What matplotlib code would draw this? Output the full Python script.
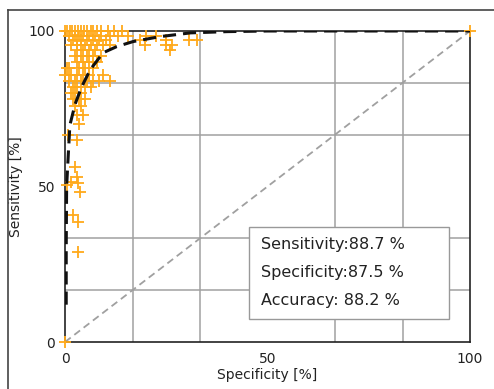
import matplotlib
matplotlib.use('Agg')
import matplotlib.pyplot as plt
from matplotlib.lines import Line2D

# ROC curve (specificity-side x, sensitivity y)
roc_x = [0.3, 0.3, 0.4, 0.8, 1.2, 2.5, 4.1, 6.2, 9.4, 12.8, 16.8, 23.5, 31, 40, 50, 100]
roc_y = [12, 30, 50, 60, 69.7, 76.5, 82, 87.5, 93, 95, 96.6, 98.2, 99.4, 99.8, 100, 100]

# individual cases (+ markers), grouped by row
rows = {
    100: [0, 0.5, 1.2, 1.8, 2.5, 3.2, 4, 4.8, 5.5, 6.3, 7, 8, 9, 10.5, 12, 14],
    98.5: [1, 2.5, 3.5, 4.5, 6, 7.5, 9, 11, 13, 15.5, 20, 22.5],
    97: [2, 3, 4, 5.5, 7, 8.5, 10, 18.5, 25, 30.5, 32.5],
    95.5: [1.5, 3, 4, 5, 6.5, 8, 9.5, 11, 19.8, 25, 26.5],
    94: [3, 4.5, 6, 7.5, 26],
    92: [2.5, 4, 5.5, 7, 9],
    90: [3, 4.5, 6, 8],
    88: [0.5, 1, 3.5, 5, 7],
    86: [0, 1.5, 3, 4.5, 6, 9.5],
    84: [1, 2.5, 4, 5.5, 7, 8.5, 11],
    82: [2, 3, 5, 6.5],
    80: [1.5, 2.5, 4],
    78: [2, 3.5, 5],
    76: [2.5, 4],
    73: [3, 4.5],
    70: [3.5],
}
low_x = [0.8, 2.9, 2.5, 2.9, 3.2, 0.5, 3.7, 1.6, 2.0, 3.3, 3.3, 0, 100]
low_y = [66.5, 65, 56.4, 53, 51, 50.5, 48.3, 51.5, 40.8, 38.7, 29, 0, 100]

pts_x, pts_y = [], []
for yv, xs in rows.items():
    pts_x += xs
    pts_y += [yv] * len(xs)
pts_x += low_x
pts_y += low_y

stats_labels = ["Sensitivity:", "Specificity:", "Accuracy: "]
stats_values = [88.7, 87.5, 88.2]

fig = plt.figure(figsize=(4.94, 3.89), dpi=100)
ax = fig.add_axes([65 / 494, 1 - 342 / 389, 405 / 494, 311 / 389])

# outer frame
fig.add_artist(Line2D([8 / 494, 8 / 494], [0, 1 - 10 / 389], color='#444444', lw=1.2))
fig.add_artist(Line2D([8 / 494, 1], [1 - 10 / 389, 1 - 10 / 389], color='#444444', lw=1.2))

ax.set_xlim(0, 100)
ax.set_ylim(0, 100)
grid = [i * 100 / 6 for i in range(7)]
ax.set_xticks(grid, minor=True)
ax.set_yticks(grid, minor=True)
ax.set_xticks([0, 50, 100])
ax.set_yticks([0, 50, 100])
ax.grid(True, which='minor', color='#a0a0a0', lw=1.1)
ax.tick_params(which='both', length=0, labelsize=10, colors='#222222', pad=7)
for s in ax.spines.values():
    s.set_color('#222222')
    s.set_linewidth(1.2)
ax.set_axisbelow(True)

ax.plot([0, 100], [0, 100], color='#a0a0a0', lw=1.3, dashes=(4, 2.5), zorder=2)
ax.plot(pts_x, pts_y, ls='none', marker='+', ms=9, mew=1.3, color='#FFA91A',
        clip_on=False, zorder=3)
ax.plot(roc_x, roc_y, color='#111111', lw=2.2, dashes=(4.3, 2.3), zorder=4)

ax.set_xlabel('Specificity [%]', fontsize=10, color='#222222', labelpad=2)
ax.set_ylabel('Sensitivity [%]', fontsize=10, color='#222222', labelpad=4)

# stats box
box = plt.Rectangle((249 / 494, 1 - 319 / 389), 200 / 494, 92 / 389, transform=fig.transFigure,
                    facecolor='white', edgecolor='#999999', lw=1.0, zorder=5)
fig.add_artist(box)
for i, (lab, val) in enumerate(zip(stats_labels, stats_values)):
    fig.text(261 / 494, 1 - (245 + 27.5 * i) / 389, f"{lab}{val} %", fontsize=11.5,
             color='#222222', va='center', ha='left', zorder=6)

fig.savefig('out.png', dpi=100)
